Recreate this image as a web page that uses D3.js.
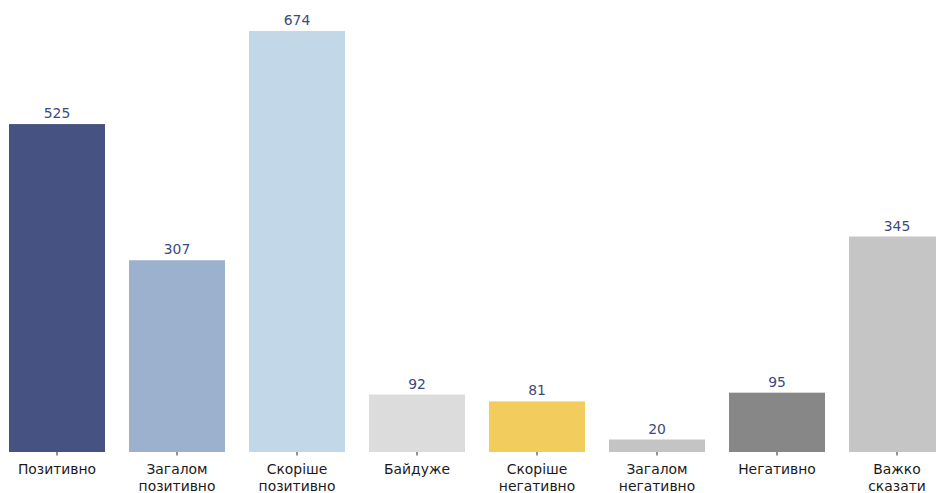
<!DOCTYPE html>
<html>
<head>
<meta charset="utf-8">
<script src="https://cdn.jsdelivr.net/npm/d3@7"></script>
<style>
  html, body { margin: 0; padding: 0; background: #fff; }
  svg { display: block; }
  svg text { font-family: "DejaVu Sans", sans-serif; }
</style>
</head>
<body>
<svg id="chart" width="936" height="493"></svg>
<script>
const categories = [
  ["Позитивно"],
  ["Загалом", "позитивно"],
  ["Скоріше", "позитивно"],
  ["Байдуже"],
  ["Скоріше", "негативно"],
  ["Загалом", "негативно"],
  ["Негативно"],
  ["Важко", "сказати"]
];
const values = [525, 307, 674, 92, 81, 20, 95, 345];
const colors = ["#455282", "#9bb1cd", "#c2d7e8", "#dcdcdc", "#f2cd5e", "#c4c4c4", "#878787", "#c5c5c5"];

const svg = d3.select("#chart");
const ids = d3.range(categories.length);

const x = d3.scaleBand()
  .domain(ids)
  .range([-3, 957])
  .paddingInner(0.2)
  .paddingOuter(0.1);

const y = d3.scaleLinear()
  .domain([0, d3.max(values)])
  .range([452, 31]);

svg.selectAll("rect.bar")
  .data(ids)
  .join("rect")
  .attr("class", "bar")
  .attr("x", i => x(i))
  .attr("y", i => y(values[i]))
  .attr("width", x.bandwidth())
  .attr("height", i => y(0) - y(values[i]))
  .attr("fill", i => colors[i]);

svg.selectAll("text.val")
  .data(ids)
  .join("text")
  .attr("class", "val")
  .attr("x", i => x(i) + x.bandwidth() / 2)
  .attr("y", i => y(values[i]) - 6)
  .attr("text-anchor", "middle")
  .attr("font-family", "DejaVu Sans")
  .attr("font-size", 13.9)
  .attr("fill", "#3d4a7c")
  .text(i => values[i]);

// x axis ticks + labels
const axis = d3.axisBottom(x).tickSize(3.5).tickPadding(4).tickFormat("");
const g = svg.append("g").attr("transform", `translate(0,${y(0)})`).call(axis);
g.attr("font-family", "DejaVu Sans").attr("font-size", 13.9);
g.select(".domain").remove();
g.selectAll(".tick line").attr("stroke", "#222").attr("stroke-width", 1);

g.selectAll(".tick").each(function(i) {
  const t = d3.select(this).append("text")
    .attr("text-anchor", "middle")
    .attr("font-family", "DejaVu Sans")
    .attr("font-size", 13.9)
    .attr("fill", "#1a1a1a")
    .attr("y", 22);
  categories[i].forEach((line, k) => {
    t.append("tspan").attr("x", 0).attr("dy", k === 0 ? 0 : 16.5).text(line);
  });
});
</script>
</body>
</html>
